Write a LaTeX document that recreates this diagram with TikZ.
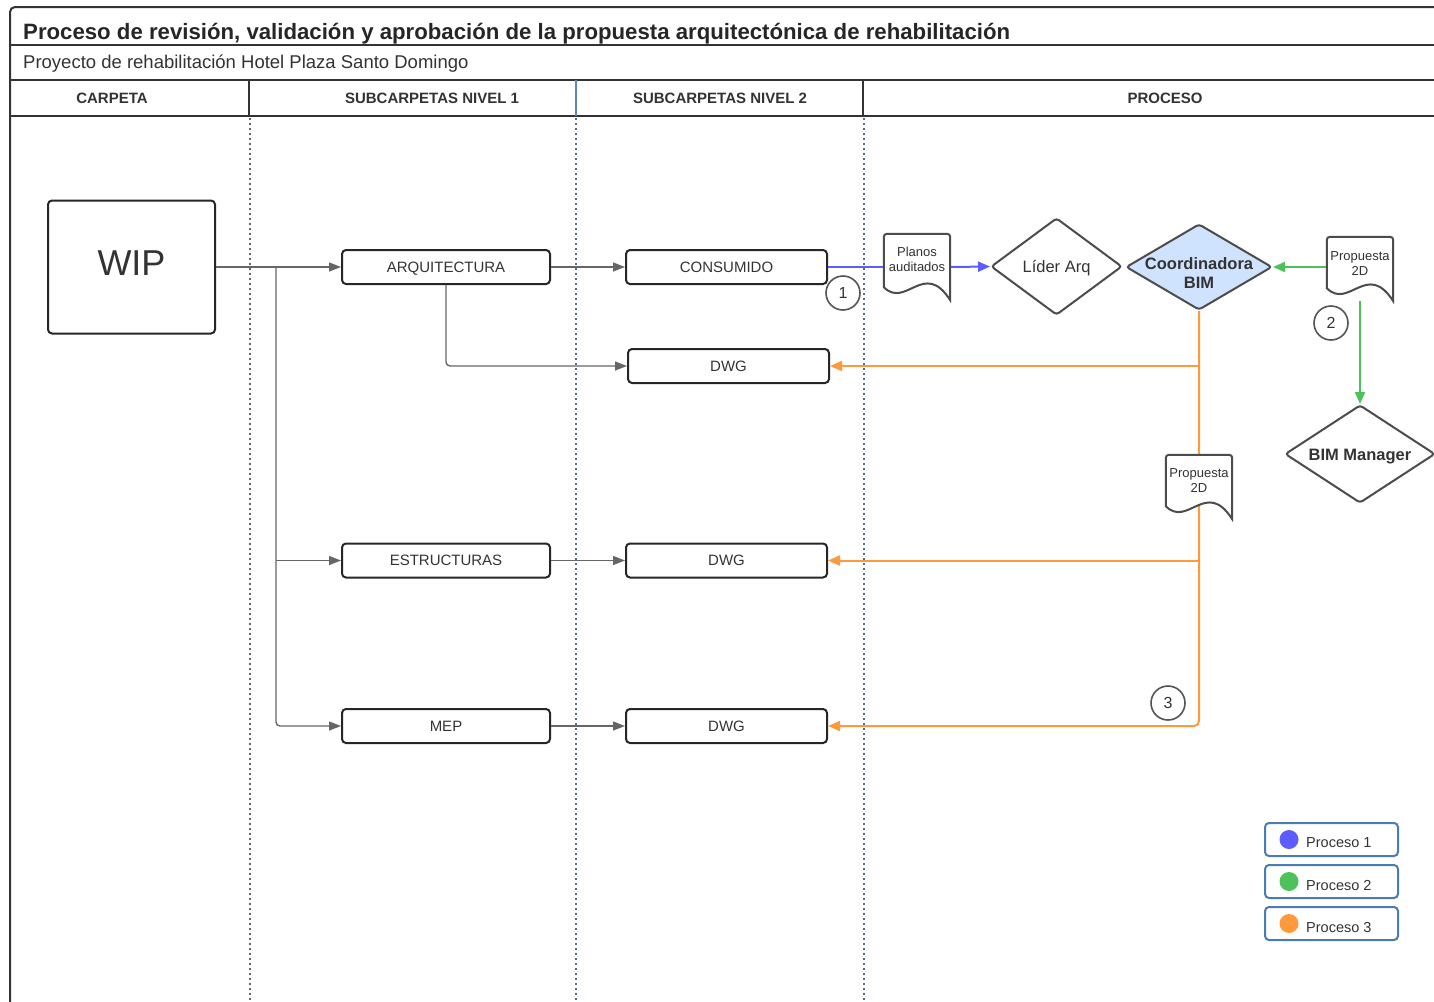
\documentclass[tikz,border=0pt]{standalone}
\usepackage{fontspec}
\setmainfont{Liberation Sans}
\usetikzlibrary{arrows.meta,shapes.geometric,calc}
\definecolor{frm}{HTML}{333333}
\definecolor{txt}{HTML}{333333}
\definecolor{gline}{HTML}{666666}
\definecolor{sepblue}{HTML}{5B86B8}
\definecolor{dotblue}{HTML}{4F6D93}
\definecolor{pblue}{HTML}{5C5CFF}
\definecolor{pgreen}{HTML}{4DC25A}
\definecolor{porange}{HTML}{FF9A3C}
\definecolor{cbfill}{HTML}{CFE3FF}
\definecolor{legb}{HTML}{4A7CB4}
\definecolor{circ}{HTML}{555555}
\newcommand{\fs}[1]{\fontsize{#1}{#1}\selectfont\baselineskip=1.2\baselineskip}
\newcommand{\docoutline}[1]{%
  \draw[docline] ($(#1.south west)+(0,-13)$) [rounded corners=3pt] -- (#1.north west) -- (#1.north east) [sharp corners] -- (#1.south east)
  .. controls ($(#1.south east)+(-26,-41)$) and ($(#1.south west)+(22,9)$) .. ($(#1.south west)+(0,-13)$) -- cycle;}
\begin{document}
\begin{tikzpicture}[x=1pt,y=-1pt,
  frameline/.style={draw=frm,line width=2pt},
  folder/.style={draw=black!85,line width=2pt,rounded corners=4pt,minimum width=208pt,minimum height=34pt,inner sep=0pt,text=txt,font=\fs{15},text height=10.7pt,text depth=0pt},
  sub/.style={folder,minimum width=201pt},
  gl/.style={draw=gline,line width=1.4pt},
  gtip/.style={-{Triangle[length=12pt,width=9pt]}},
  bl/.style={draw=pblue,line width=2pt},
  grl/.style={draw=pgreen,line width=2pt},
  orl/.style={draw=porange,line width=2pt},
  ctip/.style={-{Triangle[length=12pt,width=10pt]}},
  dia/.style={diamond,draw=black!70,line width=2pt,rounded corners=3pt,inner sep=0pt},
  diatext/.style={text=txt,font=\fs{16.5},align=center,inner sep=0pt},
  docbox/.style={rectangle,inner sep=0pt,minimum width=66pt,minimum height=#1},
  docbox/.default=66pt,
  docline/.style={draw=black!70,line width=2pt,fill=white},
  doctext/.style={text=txt,font=\fs{13},align=center,inner sep=0pt},
  numc/.style={circle,draw=circ,line width=1.6pt,minimum size=34pt,inner sep=0pt,text=txt,font=\fs{16}},
  legbox/.style={draw=legb,line width=2pt,rounded corners=4pt,minimum width=133pt,minimum height=33pt,inner sep=0pt},
  hdr/.style={font=\bfseries\fs{15},text=txt}
]
\clip (0,0) rectangle (1434,1001);
\fill[white] (0,0) rectangle (1434,1001);

% frame
\draw[frameline,rounded corners=5pt] (10,1010) -- (10,7) -- (1445,7);
\draw[frameline] (10,45) -- (1445,45);
\draw[frameline] (10,80) -- (1445,80);
\draw[frameline] (10,116) -- (1445,116);
\draw[draw=frm,line width=1.5pt] (249,80) -- (249,116);
\draw[draw=sepblue,line width=1.3pt] (576,80) -- (576,116);
\draw[draw=frm,line width=1.5pt] (863,80) -- (863,116);
\draw[draw=gline,line width=1.4pt,dash pattern=on 1.5pt off 3.5pt] (250,118) -- (250,1001);
\draw[draw=dotblue,line width=1.4pt,dash pattern=on 1.5pt off 3.5pt] (576,118) -- (576,1001);
\draw[draw=dotblue,line width=1.4pt,dash pattern=on 1.5pt off 3.5pt] (864,118) -- (864,1001);

\node[anchor=west,font=\bfseries\fs{22.2},text=black!85,inner sep=0pt] (title) at (23,33.5) {Proceso de revisión, validación y aprobación de la propuesta arquitectónica de rehabilitación};
\node[anchor=west,font=\fs{18.5},text=txt,inner sep=0pt] (subtitle) at (23,63.5) {Proyecto de rehabilitación Hotel Plaza Santo Domingo};
\node[hdr] (h1) at (112,98) {CARPETA};
\node[hdr] (h2) at (432,98) {SUBCARPETAS NIVEL 1};
\node[hdr] (h3) at (720,98) {SUBCARPETAS NIVEL 2};
\node[hdr] (h4) at (1165,98) {PROCESO};

% folders
\node[draw=black!85,line width=2pt,rounded corners=4pt,minimum width=167pt,minimum height=133pt,inner sep=0pt] (wip) at (131.5,267) {};
\node[text=txt,font=\fs{36},inner sep=0pt] (wipt) at ($(wip.center)+(0,-4)$) {WIP};
\node[folder] (arq) at (446,267) {ARQUITECTURA};
\node[folder] (est) at (446,560.5) {ESTRUCTURAS};
\node[folder] (mep) at (446,726) {MEP};
\node[sub] (cons) at (726.5,267) {CONSUMIDO};
\node[sub] (d1) at (728.5,366) {DWG};
\node[sub] (d2) at (726.5,560.5) {DWG};
\node[sub] (d3) at (726.5,726) {DWG};

% gray connectors
\coordinate (br) at (276,267);
\draw[gl,gtip] (wip.east) -- (arq.west);
\draw[gl,gtip,rounded corners=4pt] (br) |- (mep.west);
\draw[gl,gtip] (br |- est.west) -- (est.west);
\draw[gl,gtip,rounded corners=4pt] (arq.south) |- (d1.west);
\draw[gl,gtip] (arq.east) -- (cons.west);
\draw[gl,gtip] (est.east) -- (d2.west);
\draw[gl,gtip] (mep.east) -- (d3.west);

% process nodes
\node[docbox] (pa) at (917,267) {};
\node[dia,minimum width=131pt,minimum height=97pt] (la) at (1056.5,266.5) {};
\node[diatext] (lat) at ($(la.center)+(0,2)$) {Líder Arq};
\node[dia,fill=cbfill,minimum width=146pt,minimum height=86pt] (cb) at (1199,267) {};
\node[diatext,font=\bfseries\fs{16.5}] (cbt) at ($(cb.center)+(0,6)$) {Coordinadora\\BIM};
\node[docbox=64pt] (p2) at (1360,269) {};
\node[dia,minimum width=150pt,minimum height=98pt] (bm) at (1360,454) {};
\node[diatext,font=\bfseries\fs{16.5}] (bmt) at ($(bm.center)+(0,3)$) {BIM Manager};
\node[docbox=64pt] (p3) at (1199,487) {};

% blue
\draw[bl] (cons.east) -- (pa.west);
\draw[bl,ctip] (pa.east) -- (la.west);
% green
\draw[grl,ctip] (cb.east -| p2.west) -- (cb.east);
\draw[grl,ctip] (p2.south) -- (bm.north);
% orange
\draw[orl,ctip,rounded corners=5pt] (cb.south) |- (d3.east);
\draw[orl,ctip] (cb.south |- d1.east) -- (d1.east);
\draw[orl,ctip] (cb.south |- d2.east) -- (d2.east);

% documents
\docoutline{pa}
\node[doctext] (pat) at ($(pa.center)+(0,-7.5)$) {Planos\\auditados};
\docoutline{p2}
\node[doctext] (p2t) at ($(p2.center)+(0,-5.5)$) {Propuesta\\2D};
\docoutline{p3}
\node[doctext] (p3t) at ($(p3.center)+(0,-6.5)$) {Propuesta\\2D};

% numbers
\node[numc] (n1) at (843,293) {1};
\node[numc] (n2) at (1331,323) {2};
\node[numc] (n3) at (1168,703) {3};

% legend
\node[legbox] (l1) at (1331.5,839.5) {};
\node[legbox] (l2) at (1331.5,881.5) {};
\node[legbox] (l3) at (1331.5,923.5) {};
\fill[pblue] ($(l1.west)+(25,0)$) circle (9.5);
\fill[pgreen] ($(l2.west)+(25,0)$) circle (9.5);
\fill[porange] ($(l3.west)+(25,0)$) circle (9.5);
\node[anchor=west,inner sep=0pt,text=txt,font=\fs{14.5}] (l1t) at ($(l1.west)+(42,3.5)$) {Proceso 1};
\node[anchor=west,inner sep=0pt,text=txt,font=\fs{14.5}] (l2t) at ($(l2.west)+(42,3.5)$) {Proceso 2};
\node[anchor=west,inner sep=0pt,text=txt,font=\fs{14.5}] (l3t) at ($(l3.west)+(42,3.5)$) {Proceso 3};
\end{tikzpicture}
\end{document}
